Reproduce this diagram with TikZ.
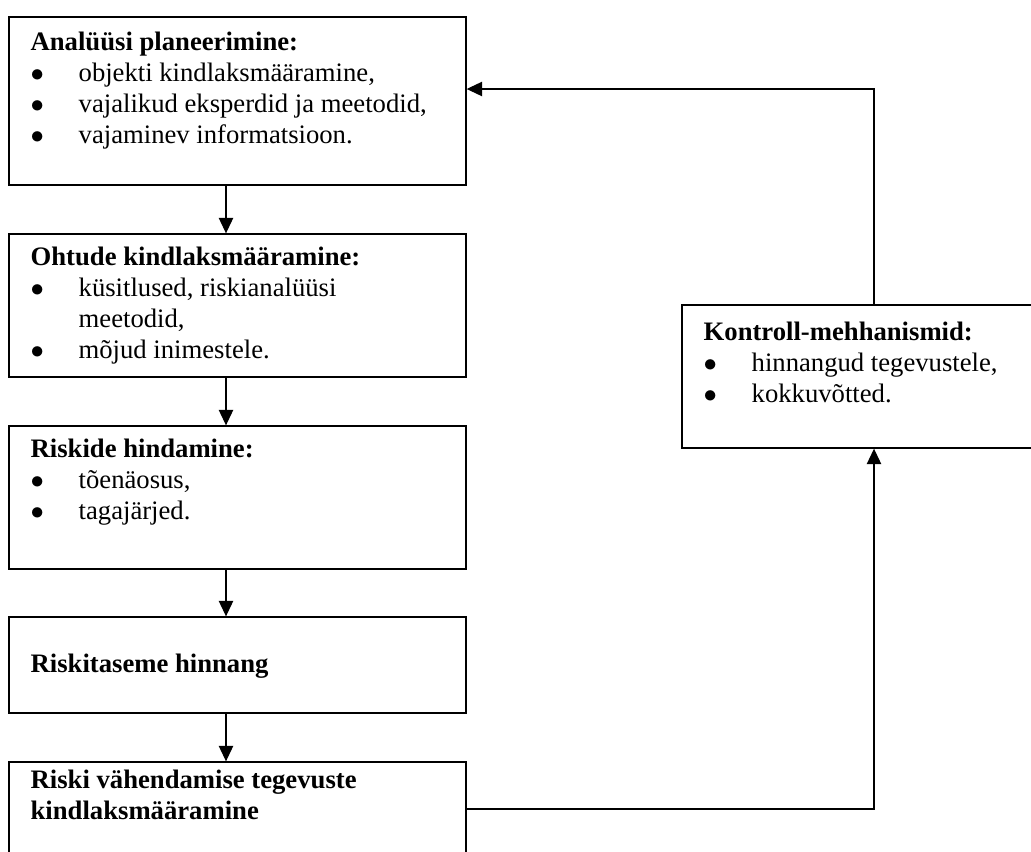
\documentclass[tikz,border=0pt]{standalone}
\usepackage{fontspec}
\setmainfont{Liberation Serif}
\usetikzlibrary{positioning, arrows.meta}

\newcommand{\bul}{\makebox[21.6pt][l]{$\bullet$}}

\begin{document}
\begin{tikzpicture}[x=0.45pt, y=-0.45pt, line width=0.6pt,
        >={Triangle[length=7pt, width=6.5pt]},
        box/.style={draw, rectangle, inner sep=0pt, minimum width=205.65pt},
        txt/.style={anchor=base west, inner sep=0pt, font=\fontsize{12}{14}\selectfont}]
    \useasboundingbox (0, 0) rectangle (1031, 851);

    \node[box, minimum height=75.6pt] (plan) at (237.5, 101) {};
    \node[box, minimum height=64.35pt] (hazard) at (237.5, 305.5) {};
    \node[box, minimum height=64.35pt] (assess) at (237.5, 497.5) {};
    \node[box, minimum height=43.2pt] (level) at (237.5, 665) {};
    \node[box, minimum height=42.3pt] (reduce) at (237.5, 809) {};
    \node[box, minimum width=172.8pt, minimum height=64.35pt] (control) at (874, 376.5) {};

    \node[txt] (plantxt) at (30, 50) {\begin{tabular}[t]{@{}l@{}}
        \textbf{Analüüsi planeerimine:}\\
        \bul objekti kindlaksmääramine,\\
        \bul vajalikud eksperdid ja meetodid,\\
        \bul vajaminev informatsioon.\end{tabular}};
    \node[txt] (hazardtxt) at (30, 265) {\begin{tabular}[t]{@{}l@{}}
        \textbf{Ohtude kindlaksmääramine:}\\
        \bul küsitlused, riskianalüüsi\\
        \hspace{21.6pt}meetodid,\\
        \bul mõjud inimestele.\end{tabular}};
    \node[txt] (assesstxt) at (30, 457) {\begin{tabular}[t]{@{}l@{}}
        \textbf{Riskide hindamine:}\\
        \bul tõenäosus,\\
        \bul tagajärjed.\end{tabular}};
    \node[txt] (leveltxt) at (30, 672) {\textbf{Riskitaseme hinnang}};
    \node[txt] (reducetxt) at (30, 788) {\begin{tabular}[t]{@{}l@{}}
        \textbf{Riski vähendamise tegevuste}\\
        \textbf{kindlaksmääramine}\end{tabular}};
    \node[txt] (controltxt) at (703, 340) {\begin{tabular}[t]{@{}l@{}}
        \textbf{Kontroll-mehhanismid:}\\
        \bul hinnangud tegevustele,\\
        \bul kokkuvõtted.\end{tabular}};

    \coordinate (spine) at (226, 0);
    \coordinate (back) at (874, 89);

    \draw [->] (plan.south -| spine) -- (hazard.north -| spine);
    \draw [->] (hazard.south -| spine) -- (assess.north -| spine);
    \draw [->] (assess.south -| spine) -- (level.north -| spine);
    \draw [->] (level.south -| spine) -- (reduce.north -| spine);
    \draw [->] (reduce.east) -| (control.south);
    \draw [->] (control.north) |- (plan.east |- back);
\end{tikzpicture}
\end{document}
